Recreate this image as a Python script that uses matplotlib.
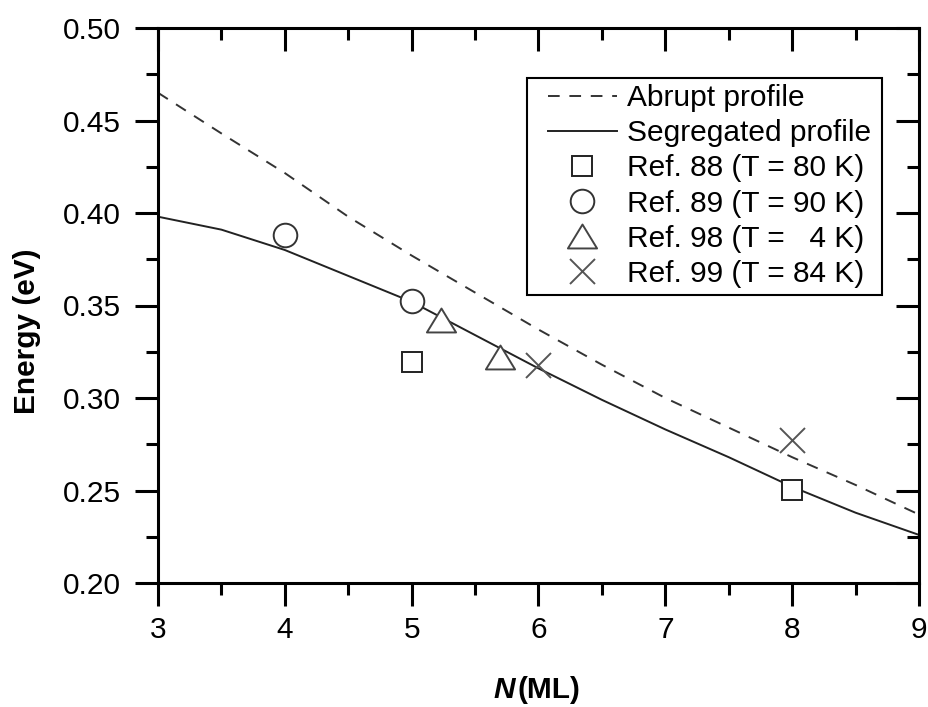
import matplotlib
matplotlib.use("Agg")
import matplotlib.pyplot as plt
from matplotlib.path import Path
from matplotlib.patches import Rectangle
from matplotlib.ticker import MultipleLocator, FormatStrFormatter

plt.rcParams['font.family'] = ['Liberation Sans', 'DejaVu Sans']

# Curves
n_curve = [3.0, 3.5, 4.0, 4.5, 5.0, 5.5, 6.0, 6.5, 7.0, 7.5, 8.0, 8.5, 9.0]
abrupt = [0.465, 0.443, 0.4216, 0.398, 0.377, 0.357, 0.337, 0.318, 0.300, 0.284, 0.268, 0.253, 0.237]
segregated = [0.398, 0.391, 0.380, 0.366, 0.352, 0.334, 0.316, 0.299, 0.283, 0.268, 0.252, 0.238, 0.226]

# Experimental points
ref88_n = [5.0, 8.0]
ref88_e = [0.3195, 0.2503]
ref89_n = [4.0, 5.0]
ref89_e = [0.388, 0.3524]
ref98_n = [5.235, 5.70]
ref98_e = [0.342, 0.322]
ref99_n = [6.0, 8.0]
ref99_e = [0.318, 0.2773]

labels = ["Abrupt profile", "Segregated profile",
          "Ref. 88 (T = 80 K)", "Ref. 89 (T = 90 K)",
          "Ref. 98 (T =   4 K)", "Ref. 99 (T = 84 K)"]

W, H = 929, 707
fig = plt.figure(figsize=(W/100, H/100), dpi=100)
ax = fig.add_axes([158/W, 1-583/H, (919-158)/W, (583-28)/H])

tri = Path([(-1.0, -0.82), (1.0, -0.82), (0.0, 0.82), (-1.0, -0.82)],
           [Path.MOVETO, Path.LINETO, Path.LINETO, Path.CLOSEPOLY])

ax.plot(n_curve, abrupt, ls=(0, (6, 5)), color='#333333', lw=1.4, label=labels[0])
ax.plot(n_curve, segregated, ls='-', color='#222222', lw=1.4, label=labels[1])
ax.plot(ref88_n, ref88_e, ls='none', marker='s', ms=14.5, mfc='white', mec='#222222', mew=1.4, label=labels[2])
ax.plot(ref89_n, ref89_e, ls='none', marker='o', ms=17, mfc='white', mec='#333333', mew=1.4, label=labels[3])
ax.plot(ref98_n, ref98_e, ls='none', marker=tri, ms=21, mfc='white', mec='#444444', mew=1.4, label=labels[4])
ax.plot(ref99_n, ref99_e, ls='none', marker='x', ms=18, mec='#555555', mew=1.4, label=labels[5])

ax.set_xlim(3, 9)
ax.set_ylim(0.20, 0.50)
ax.xaxis.set_major_locator(MultipleLocator(1))
ax.xaxis.set_minor_locator(MultipleLocator(0.5))
ax.yaxis.set_major_locator(MultipleLocator(0.05))
ax.yaxis.set_minor_locator(MultipleLocator(0.025))
ax.yaxis.set_major_formatter(FormatStrFormatter('%.2f'))

for s in ax.spines.values():
    s.set_linewidth(2.2)

ax.tick_params(axis='both', which='major', direction='out', length=16.5, width=2.2,
               labelsize=21.5, colors='black')
ax.tick_params(axis='y', which='major', pad=10)
ax.tick_params(axis='x', which='major', pad=7)
ax.tick_params(axis='both', which='minor', direction='out', length=8.5, width=2.2)

axt = ax.secondary_xaxis('top')
axt.xaxis.set_major_locator(MultipleLocator(1))
axt.xaxis.set_minor_locator(MultipleLocator(0.5))
axt.tick_params(which='major', direction='in', length=16.5, width=2.2, labeltop=False)
axt.tick_params(which='minor', direction='in', length=8.5, width=2.2)
axr = ax.secondary_yaxis('right')
axr.yaxis.set_major_locator(MultipleLocator(0.05))
axr.yaxis.set_minor_locator(MultipleLocator(0.025))
axr.tick_params(which='major', direction='in', length=16.5, width=2.2, labelright=False)
axr.tick_params(which='minor', direction='in', length=8.5, width=2.2)

fig.text(27/W, 1-331/H, "Energy (eV)", fontsize=21.5, fontweight='bold', rotation=90,
         ha='center', va='center')
fig.text(515/W, 1-690/H, "N", fontsize=21.5, fontweight='bold', style='italic', ha='right', va='center')
fig.text(518/W, 1-690/H, "(ML)", fontsize=21.5, fontweight='bold', ha='left', va='center')

# legend frame
ax.add_patch(Rectangle((527/W, 1-295/H), (882-527)/W, (295-78)/H, transform=fig.transFigure,
                       fill=True, facecolor='white', edgecolor='black', lw=1.5, zorder=4,
                       clip_on=False))
leg = ax.legend(loc='upper left', bbox_to_anchor=(548/W, 1-84/H), bbox_transform=fig.transFigure,
                borderaxespad=0, borderpad=0, fontsize=21.5, frameon=False,
                handlelength=2.3, handletextpad=0.33, labelspacing=0.24)
leg.set_zorder(6)

fig.savefig("out.png", dpi=100, facecolor='white')
